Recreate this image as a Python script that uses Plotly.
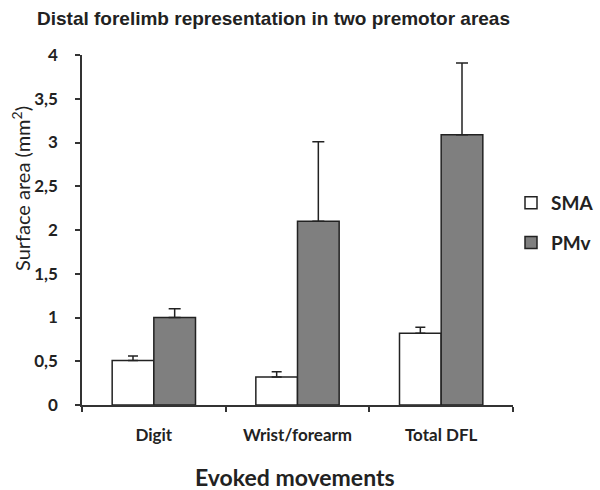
import plotly.graph_objects as go

categories = ["Digit", "Wrist/forearm", "Total DFL"]
sma_values = [0.51, 0.32, 0.82]
sma_err = [0.05, 0.06, 0.07]
pmv_values = [1.0, 2.1, 3.09]
pmv_err = [0.1, 0.91, 0.82]
y_ticks = [0, 0.5, 1, 1.5, 2, 2.5, 3, 3.5, 4]
y_ticktext = ["0", "0,5", "1", "1,5", "2", "2,5", "3", "3,5", "4"]

fig = go.Figure()
fig.add_trace(go.Bar(
    x=categories, y=sma_values, name="<b>SMA</b>", legendgroup="a",
    marker=dict(color="white", line=dict(color="#222", width=1.5)),
    error_y=dict(type="data", array=sma_err, symmetric=False, arrayminus=[0, 0, 0],
                 color="#222", thickness=1.5, width=5),
))
fig.add_trace(go.Bar(
    x=categories, y=pmv_values, name="<b>PMv</b>", legendgroup="b",
    marker=dict(color="#7f7f7f", line=dict(color="#222", width=1.5)),
    error_y=dict(type="data", array=pmv_err, symmetric=False, arrayminus=[0, 0, 0],
                 color="#222", thickness=1.5, width=6),
))

fig.update_layout(
    width=600, height=490,
    margin=dict(l=82, r=87, t=55, b=85, autoexpand=False),
    plot_bgcolor="white", paper_bgcolor="white",
    barmode="group", bargap=0.42, bargroupgap=0,
    showlegend=True,
    legend=dict(x=(511 - 82) / 431, xanchor="left", y=0.52, yanchor="middle",
                font=dict(family="Lato", size=19, color="#222"),
                tracegroupgap=12, itemwidth=30, bgcolor="rgba(0,0,0,0)"),
    font=dict(family="Lato", color="#222"),
)
fig.update_xaxes(
    showline=True, linecolor="#333", linewidth=1.5,
    ticks="outside", tickson="boundaries", ticklen=5, tickcolor="#333", tickwidth=1.5,
    tickfont=dict(family="Lato", size=17, color="#222", weight="bold"),
    ticklabelstandoff=14,
    showgrid=False, zeroline=False,
)
fig.update_yaxes(
    range=[0, 4], tickvals=y_ticks, ticktext=y_ticktext,
    showline=True, linecolor="#333", linewidth=1.5,
    ticks="outside", ticklen=5, tickcolor="#333", tickwidth=1.5,
    tickfont=dict(family="Lato", size=17, color="#222", weight="bold"),
    ticklabelstandoff=14,
    showgrid=False, zeroline=False,
)

fig.add_annotation(text="<b>Distal forelimb representation in two premotor areas</b>",
                   xref="paper", yref="paper", x=(273 - 82) / 431, y=1 + (55 - 18) / 350,
                   xanchor="center", yanchor="middle", showarrow=False,
                   font=dict(family="Liberation Sans", size=19, color="#222"))
fig.add_annotation(text="Surface area (mm<sup>2</sup>)",
                   xref="paper", yref="paper", x=(21 - 82) / 431, y=1 - (189 - 55) / 350,
                   xanchor="center", yanchor="middle", showarrow=False, textangle=-90,
                   font=dict(family="Lato", size=20, color="#222"))
fig.add_annotation(text="<b>Evoked movements</b>",
                   xref="paper", yref="paper", x=(295 - 82) / 431, y=-(477 - 405) / 350,
                   xanchor="center", yanchor="middle", showarrow=False,
                   font=dict(family="Lato", size=23, color="#222"))

fig.write_html("out.html")
